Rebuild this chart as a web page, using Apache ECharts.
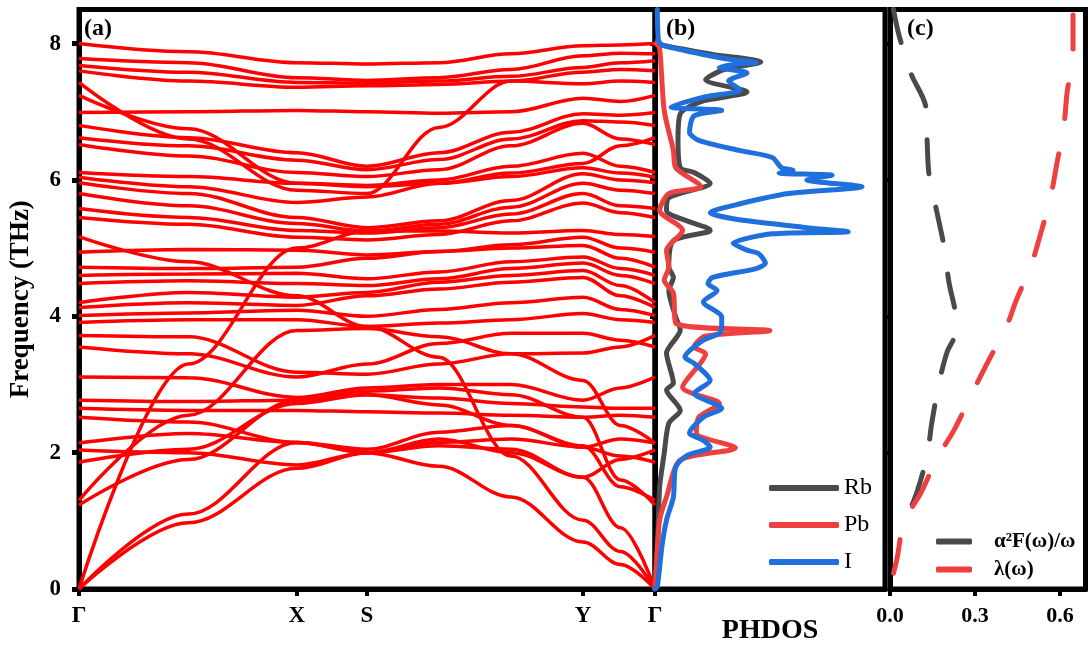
<!DOCTYPE html>
<html>
<head>
    <meta charset="utf-8">
    <title>Phonon bands / PHDOS</title>
    <style>
        html, body { margin: 0; padding: 0; background: #fff; }
        #main { width: 1089px; height: 652px; }
    </style>
</head>
<body>
    <div id="main"></div>
</body>
<script type="text/javascript" src="https://cdn.jsdelivr.net/npm/echarts@6/dist/echarts.min.js"></script>
<script type="text/javascript">
    // k-path positions (fraction of path) and labels
    var kPath = [0, 0.19, 0.378, 0.5, 0.625, 0.75, 0.875, 0.94, 1.0];
    var kTicks = [0, 0.378, 0.5, 0.875, 1.0];
    var kNames = ['Γ', 'X', 'S', 'Y', 'Γ'];
    var freqTicks = [0, 2, 4, 6, 8];
    var lambdaTicks = [0, 0.3, 0.6];

    // band frequencies (THz) at each kPath point
    var bands = [
        [8.00, 7.88, 7.72, 7.70, 7.72, 7.85, 7.97, 7.98, 8.00],
        [7.78, 7.72, 7.50, 7.46, 7.50, 7.62, 7.82, 7.86, 7.85],
        [7.68, 7.58, 7.43, 7.42, 7.45, 7.52, 7.65, 7.72, 7.75],
        [7.60, 7.45, 7.36, 7.38, 7.40, 7.45, 7.58, 7.62, 7.60],
        [7.43, 6.60, 5.85, 5.80, 6.77, 7.45, 7.41, 7.45, 7.43],
        [7.24, 6.75, 5.95, 5.90, 5.95, 6.10, 6.24, 6.50, 6.62],
        [6.99, 7.00, 7.02, 7.00, 6.98, 7.00, 7.20, 7.15, 7.24],
        [6.80, 6.62, 6.40, 6.20, 6.40, 6.70, 6.97, 6.95, 6.99],
        [6.62, 6.50, 6.29, 6.15, 6.30, 6.60, 6.87, 6.85, 6.80],
        [6.52, 6.35, 6.11, 6.05, 6.15, 6.50, 6.83, 6.60, 6.52],
        [6.11, 6.05, 5.95, 5.92, 6.00, 6.20, 6.39, 6.20, 6.11],
        [6.04, 5.90, 5.67, 5.75, 5.95, 6.05, 6.18, 6.10, 6.04],
        [5.96, 5.80, 5.45, 5.30, 5.40, 5.70, 6.09, 6.00, 5.96],
        [5.80, 5.62, 5.36, 5.25, 5.35, 5.60, 5.95, 5.85, 5.80],
        [5.58, 5.45, 5.26, 5.22, 5.30, 5.50, 5.80, 5.62, 5.58],
        [5.45, 5.35, 5.16, 5.12, 5.20, 5.40, 5.66, 5.52, 5.45],
        [0.00, 3.30, 5.00, 5.25, 5.25, 5.22, 5.26, 5.20, 5.17],
        [4.94, 4.98, 4.97, 4.90, 4.95, 5.05, 5.16, 5.00, 4.94],
        [4.72, 4.70, 4.72, 4.85, 4.95, 5.00, 5.04, 4.85, 4.72],
        [4.60, 4.62, 4.63, 4.55, 4.65, 4.80, 4.87, 4.70, 4.60],
        [4.48, 4.52, 4.48, 4.45, 4.55, 4.70, 4.78, 4.60, 4.48],
        [4.20, 4.35, 4.28, 4.35, 4.50, 4.60, 4.67, 4.45, 4.20],
        [4.13, 4.20, 4.16, 4.30, 4.40, 4.50, 4.57, 4.30, 4.13],
        [4.01, 4.05, 4.09, 4.00, 4.10, 4.20, 4.28, 4.10, 4.01],
        [3.91, 3.95, 3.95, 3.85, 3.90, 3.95, 4.04, 3.95, 3.91],
        [5.17, 4.80, 4.30, 3.85, 3.40, 1.95, 1.01, 0.55, 0.00],
        [3.72, 3.70, 3.18, 3.15, 3.30, 3.45, 3.46, 3.55, 3.72],
        [3.55, 3.45, 3.11, 3.30, 3.60, 3.75, 3.75, 3.65, 3.55],
        [1.30, 2.55, 3.79, 3.82, 3.70, 3.45, 3.06, 2.40, 2.14],
        [3.11, 3.10, 2.81, 2.95, 3.00, 3.00, 2.77, 2.95, 3.11],
        [2.77, 2.75, 2.77, 2.85, 2.80, 2.72, 2.67, 2.65, 2.65],
        [2.65, 2.62, 2.62, 2.60, 2.58, 2.55, 2.52, 2.55, 2.52],
        [2.52, 2.45, 2.15, 2.05, 2.30, 2.40, 2.08, 2.20, 2.14],
        [2.14, 2.28, 2.15, 2.00, 2.10, 2.05, 1.64, 1.90, 2.04],
        [2.04, 2.00, 1.82, 2.00, 2.15, 2.20, 2.08, 1.95, 1.86],
        [1.86, 2.05, 2.72, 2.85, 2.70, 2.40, 2.10, 1.50, 1.30],
        [1.23, 1.90, 2.77, 2.90, 2.95, 2.85, 2.52, 1.60, 1.23],
        [0.00, 0.97, 1.77, 2.00, 1.80, 1.35, 0.69, 0.36, 0.00],
        [0.00, 1.10, 2.15, 2.00, 2.20, 2.00, 1.64, 0.90, 0.00]
    ];

    // projected phonon DOS: [dos, freq]
    var dosRb = [
        [0.01, 8.05], [0.03, 7.98], [0.12, 7.92], [0.25, 7.84], [0.46, 7.73], [0.30, 7.62],
        [0.22, 7.47], [0.40, 7.29], [0.20, 7.15], [0.11, 6.97], [0.10, 6.58], [0.11, 6.18],
        [0.17, 6.11], [0.24, 5.95], [0.06, 5.74], [0.05, 5.55], [0.24, 5.26], [0.08, 5.11],
        [0.06, 4.72], [0.08, 4.57], [0.06, 4.38], [0.09, 3.99], [0.11, 3.80], [0.05, 3.46],
        [0.08, 3.02], [0.05, 2.92], [0.11, 2.62], [0.06, 2.43], [0.04, 1.99], [0.02, 1.49],
        [0.01, 0.50], [0.00, 0.00]
    ];
    var dosPb = [
        [0.005, 8.00], [0.02, 7.94], [0.04, 7.02], [0.08, 6.43], [0.09, 6.18], [0.20, 5.90],
        [0.06, 5.80], [0.02, 5.55], [0.12, 5.26], [0.05, 4.97], [0.06, 4.72], [0.04, 4.53],
        [0.08, 4.34], [0.09, 3.90], [0.50, 3.79], [0.22, 3.71], [0.17, 3.55], [0.22, 3.45],
        [0.12, 2.96], [0.28, 2.72], [0.19, 2.52], [0.18, 2.29], [0.35, 2.07], [0.11, 1.89],
        [0.05, 1.35], [0.02, 1.01], [0.00, 0.00]
    ];
    var dosI = [
        [0.01, 8.50], [0.015, 8.05], [0.03, 7.98], [0.10, 7.92], [0.21, 7.84], [0.30, 7.78],
        [0.44, 7.72], [0.36, 7.70], [0.28, 7.65], [0.40, 7.57], [0.32, 7.45], [0.37, 7.32],
        [0.22, 7.22], [0.07, 7.07], [0.29, 7.02], [0.17, 6.94], [0.15, 6.70], [0.19, 6.58],
        [0.37, 6.43], [0.51, 6.33], [0.55, 6.18], [0.60, 6.14], [0.54, 6.10], [0.77, 6.07],
        [0.66, 6.00], [0.90, 5.90], [0.58, 5.80], [0.37, 5.65], [0.24, 5.52], [0.34, 5.43],
        [0.66, 5.30], [0.84, 5.24], [0.51, 5.21], [0.34, 5.07], [0.40, 4.97], [0.45, 4.92],
        [0.48, 4.78], [0.44, 4.70], [0.25, 4.57], [0.23, 4.48], [0.27, 4.38], [0.21, 4.21],
        [0.29, 3.99], [0.29, 3.85], [0.28, 3.75], [0.21, 3.65], [0.13, 3.40], [0.17, 3.31],
        [0.24, 3.06], [0.17, 2.87], [0.29, 2.65], [0.21, 2.52], [0.15, 2.29], [0.21, 2.18],
        [0.24, 2.08], [0.14, 1.96], [0.09, 1.79], [0.08, 1.35], [0.05, 1.01], [0.03, 0.62],
        [0.01, 0.03], [0.00, 0.00]
    ];

    // Eliashberg function and coupling: [value, freq]
    var a2F = [
        [0.012, 8.50], [0.032, 8.12], [0.074, 7.56], [0.127, 7.06], [0.131, 6.58], [0.138, 6.07],
        [0.166, 5.52], [0.190, 5.04], [0.208, 4.50], [0.233, 4.01], [0.235, 3.80], [0.201, 3.47],
        [0.173, 3.02], [0.148, 2.45], [0.131, 1.96], [0.095, 1.42], [0.056, 1.01], [0.040, 0.80]
    ];
    var lambda = [
        [0.646, 8.42], [0.646, 7.87], [0.625, 7.28], [0.614, 6.80], [0.589, 6.24], [0.568, 5.77],
        [0.533, 5.23], [0.498, 4.75], [0.445, 4.23], [0.420, 3.94], [0.395, 3.72], [0.339, 3.28],
        [0.286, 2.84], [0.226, 2.33], [0.166, 1.92], [0.109, 1.41], [0.049, 0.98], [0.025, 0.45],
        [0.004, 0.09], [0.000, 0.00]
    ];

    var SERIF = '"Liberation Serif", "Times New Roman", serif';
    var black = '#000';

    function axisLine() {
        return { show: true, lineStyle: { color: black, width: 5 } };
    }

    var series = [];
    // 能带
    for (var i = 0; i < bands.length; i++) {
        var pts = [];
        for (var j = 0; j < kPath.length; j++) pts.push([kPath[j], bands[i][j]]);
        series.push({
            type: 'line',
            xAxisIndex: 0,
            yAxisIndex: 0,
            data: pts,
            smooth: 0.35,
            smoothMonotone: 'x',
            symbol: 'none',
            silent: true,
            lineStyle: { color: '#ff0000', width: 3.5 }
        });
    }

    // PHDOS
    function dosSeries(name, data, color) {
        return {
            name: name,
            type: 'line',
            xAxisIndex: 1,
            yAxisIndex: 1,
            data: data,
            smooth: 0.25,
            symbol: 'none',
            silent: true,
            color: color,
            lineStyle: { color: color, width: 5, cap: 'round', join: 'round' }
        };
    }
    series.push(dosSeries('Rb', dosRb, '#4a4a4a'));
    series.push(dosSeries('Pb', dosPb, '#ef4040'));
    series.push(dosSeries('I', dosI, '#1f6fdc'));

    // panel (c)
    series.push({
        name: 'α²F(ω)/ω',
        type: 'line',
        xAxisIndex: 2,
        yAxisIndex: 2,
        data: a2F,
        smooth: 0.3,
        symbol: 'none',
        silent: true,
        color: '#4a4a4a',
        lineStyle: { color: '#4a4a4a', width: 5, type: [34, 34], cap: 'round' }
    });
    series.push({
        name: 'λ(ω)',
        type: 'line',
        xAxisIndex: 2,
        yAxisIndex: 2,
        data: lambda,
        smooth: 0.3,
        symbol: 'none',
        silent: true,
        color: '#ef4040',
        lineStyle: { color: '#ef4040', width: 5, type: [34, 36], cap: 'round' }
    });

    var gridBase = { top: 9.5, height: 579.5, show: true, borderColor: black, borderWidth: 5 };

    var option = {
        animation: false,
        backgroundColor: '#fff',
        grid: [
            Object.assign({ left: 79, width: 576 }, gridBase),
            Object.assign({ left: 655, width: 230 }, gridBase),
            Object.assign({ left: 890, width: 195.5 }, gridBase)
        ],
        xAxis: [{
            gridIndex: 0, type: 'value', min: 0, max: 1,
            axisLine: axisLine(),
            axisTick: { show: true, length: 7, lineStyle: { color: black, width: 4 }, customValues: kTicks },
            axisLabel: {
                customValues: kTicks, margin: 16, color: black,
                fontFamily: SERIF, fontWeight: 'bold', fontSize: 23,
                formatter: function(v) {
                    for (var n = 0; n < kTicks.length; n++) {
                        if (Math.abs(kTicks[n] - v) < 1e-6) return kNames[n];
                    }
                    return '';
                }
            },
            splitLine: { show: false }
        }, {
            gridIndex: 1, type: 'value', min: 0, max: 1,
            axisLine: axisLine(),
            axisTick: { show: false },
            axisLabel: { show: false },
            splitLine: { show: false },
            name: 'PHDOS', nameLocation: 'middle', nameGap: 28,
            nameTextStyle: { color: black, fontFamily: SERIF, fontWeight: 'bold', fontSize: 28 }
        }, {
            gridIndex: 2, type: 'value', min: 0, max: 0.69,
            axisLine: axisLine(),
            axisTick: { show: true, length: 7, lineStyle: { color: black, width: 4 }, customValues: lambdaTicks },
            axisLabel: {
                customValues: lambdaTicks, margin: 16, color: black,
                fontFamily: SERIF, fontWeight: 'bold', fontSize: 22,
                formatter: function(v) { return v.toFixed(1); }
            },
            splitLine: { show: false }
        }],
        yAxis: [{
            gridIndex: 0, type: 'value', min: 0, max: 8.5,
            axisLine: axisLine(),
            axisTick: { show: true, length: 7, lineStyle: { color: black, width: 5 }, customValues: freqTicks },
            axisLabel: {
                customValues: freqTicks, margin: 18, color: black,
                fontFamily: SERIF, fontWeight: 'bold', fontSize: 23
            },
            splitLine: { show: false },
            name: 'Frequency (THz)', nameLocation: 'middle', nameGap: 44, nameRotate: 90,
            nameTextStyle: { color: black, fontFamily: SERIF, fontWeight: 'bold', fontSize: 27 }
        }, {
            gridIndex: 1, type: 'value', min: 0, max: 8.5,
            axisLine: axisLine(),
            axisTick: { show: true, length: 5, lineStyle: { color: black, width: 4 }, customValues: [2, 4, 6, 8] },
            axisLabel: { show: false },
            splitLine: { show: false }
        }, {
            gridIndex: 2, type: 'value', min: 0, max: 8.5,
            axisLine: axisLine(),
            axisTick: { show: true, length: 6, lineStyle: { color: black, width: 4 }, customValues: [2, 4, 6, 8] },
            axisLabel: { show: false },
            splitLine: { show: false }
        }],
        legend: [{
            data: ['Rb', 'Pb', 'I'],
            orient: 'vertical',
            left: 764, top: 471,
            icon: 'roundRect',
            itemWidth: 70, itemHeight: 6, itemGap: 13,
            selectedMode: false,
            textStyle: { color: black, fontFamily: SERIF, fontSize: 24 }
        }, {
            data: ['α²F(ω)/ω', 'λ(ω)'],
            orient: 'vertical',
            left: 931, top: 526,
            icon: 'roundRect',
            itemWidth: 36, itemHeight: 6, itemGap: 7,
            selectedMode: false,
            textStyle: { color: black, fontFamily: SERIF, fontWeight: 'bold', fontSize: 21, padding: [0, 0, 0, 17] }
        }],
        graphic: [
            { type: 'text', left: 84, top: 17, style: { text: '(a)', font: 'bold 24px ' + SERIF, fill: black } },
            { type: 'text', left: 666, top: 17, style: { text: '(b)', font: 'bold 24px ' + SERIF, fill: black } },
            { type: 'text', left: 907, top: 17, style: { text: '(c)', font: 'bold 24px ' + SERIF, fill: black } }
        ],
        series: series
    };

    var myChart = echarts.init(document.getElementById('main'));
    myChart.setOption(option);
</script>
</html>
